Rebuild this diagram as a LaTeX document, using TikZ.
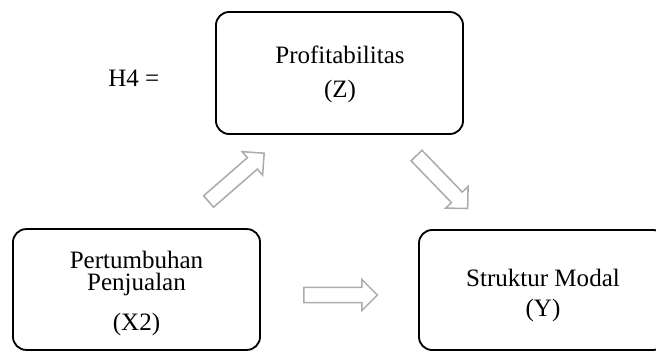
\documentclass[tikz,border=0pt]{standalone}
\usepackage{fontspec}
\setmainfont{Liberation Serif}
\usepackage{tikz}
\usetikzlibrary{shapes.arrows}
\definecolor{arrowgray}{RGB}{172,172,172}

\begin{document}
\begin{tikzpicture}[x=0.025cm, y=-0.025cm,
        varbox/.style={draw, line width=1.3pt, rounded corners=0.33cm, minimum width=6.175cm},
        vartext/.style={inner sep=0pt, align=center, font=\fontsize{17.8}{16.2}\selectfont},
        hollowarrow/.style={single arrow, draw=arrowgray, line width=1.1pt, inner sep=0.17cm, single arrow head extend=0.2cm, minimum height=1.84cm, anchor=tail}]

        \useasboundingbox (0,0) rectangle (656,352);

        % the three variables
        \node[varbox, minimum height=3.05cm] (zbox) at (339.5,73) {};
        \node[varbox, minimum height=3.02cm] (xbox) at (136.5,289.5) {};
        \node[varbox, minimum height=3cm] (ybox) at (542.5,290) {};

        \node[vartext] (ztext) at (340,74.2) {Profitabilitas\\[7.6pt](Z)};
        \node[vartext] (xtext) at (136.5,293.2) {Pertumbuhan\\Penjualan\\[11.8pt](X2)};
        \node[vartext] (ytext) at (543,295.8) {Struktur Modal\\[5.1pt](Y)};

        \node[vartext, anchor=base west] (hyp) at (108,87) {H4 =};

        % hollow arrows
        \node[hollowarrow, rotate=41] (xtoz) at (208,202) {};
        \node[hollowarrow, rotate=-46] (ztoy) at (416,155) {};
        \node[hollowarrow] (xtoy) at (303,295) {};

    \end{tikzpicture}
\end{document}
